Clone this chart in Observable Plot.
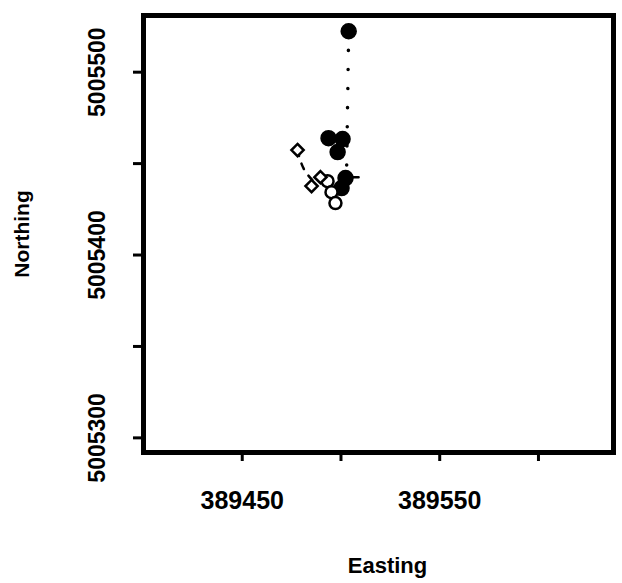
<!DOCTYPE html>
<html>
<head>
<meta charset="utf-8">
<script src="https://cdn.jsdelivr.net/npm/d3@7"></script>
<script src="https://cdn.jsdelivr.net/npm/@observablehq/plot@0.6"></script>
<style>
  html, body { margin: 0; padding: 0; background: #fff; }
  svg { display: block; }
</style>
</head>
<body>
<div id="chart"></div>
<script>
// Filled circles
const filledEasting  = [389503.9, 389493.7, 389500.8, 389498.3, 389502.3, 389500.3];
const filledNorthing = [5005522.4, 5005463.9, 5005463.4, 5005456.3, 5005442.1, 5005436.6];
// Open circles
const openEasting  = [389493.2, 389495.2, 389497.2];
const openNorthing = [5005440.4, 5005434.4, 5005428.4];
// Open diamonds
const diamondEasting  = [389478.0, 389485.1, 389489.6];
const diamondNorthing = [5005457.4, 5005437.7, 5005442.6];
// Dotted track (filled series)
const dottedEasting  = [389503.9, 389502.8];
const dottedNorthing = [5005522.4, 5005442.6];
// Dashed track (diamond series)
const dashedEasting  = [389478.0, 389481.0, 389486.0];
const dashedNorthing = [5005457.4, 5005447.5, 5005440.4];
// Short dashed segment
const segEasting  = [389499.8, 389509.0];
const segNorthing = [5005442.6, 5005442.6];

const xTicks = [389450, 389500, 389550, 389600];
const xTickLabels = ["389450", "", "389550", ""];
const yTicks = [5005300, 5005350, 5005400, 5005450, 5005500];
const yTickLabels = ["5005300", "", "5005400", "", "5005500"];

const toPts = (xs, ys) => xs.map((x, i) => ({x, y: ys[i]}));
const filled = toPts(filledEasting, filledNorthing);
const open = toPts(openEasting, openNorthing);
const diamonds = toPts(diamondEasting, diamondNorthing);
const dotted = toPts(dottedEasting, dottedNorthing);
const dashed = toPts(dashedEasting, dashedNorthing);
const seg = toPts(segEasting, segNorthing);

const font = "'Liberation Sans', Arial, Helvetica, sans-serif";

const chart = Plot.plot({
  width: 622,
  height: 583,
  marginLeft: 143,
  marginRight: 9,
  marginTop: 15,
  marginBottom: 131,
  style: {fontFamily: font, background: "#fff", color: "#000"},
  x: {domain: [389400, 389638]},
  y: {domain: [5005292, 5005531]},
  marks: [
    Plot.axisX({
      ticks: xTicks,
      tickFormat: (d) => xTickLabels[xTicks.indexOf(d)],
      tickSize: 9,
      tickPadding: 30,
      strokeWidth: 3,
      fontSize: 25,
      fontWeight: "bold",
      label: null
    }),
    Plot.axisY({
      ticks: yTicks,
      tickFormat: (d) => yTickLabels[yTicks.indexOf(d)],
      tickSize: 10,
      tickPadding: 29,
      tickRotate: -90,
      strokeWidth: 3,
      fontSize: 23,
      fontWeight: "bold",
      label: null
    }),
    Plot.frame({stroke: "#000", strokeWidth: 5}),
    Plot.line(dotted, {x: "x", y: "y", stroke: "#000", strokeWidth: 3.5, strokeDasharray: "0.1,19", strokeLinecap: "round"}),
    Plot.line(dashed, {x: "x", y: "y", stroke: "#000", strokeWidth: 2.5, strokeDasharray: "6,8", curve: "natural"}),
    Plot.line(seg, {x: "x", y: "y", stroke: "#000", strokeWidth: 2.5, strokeDasharray: "7,4"}),
    Plot.dot(filled, {x: "x", y: "y", r: 7.5, fill: "#000", stroke: "#000", symbol: "circle"}),
    Plot.dot(open, {x: "x", y: "y", r: 6, fill: "#fff", stroke: "#000", strokeWidth: 2.5, symbol: "circle"}),
    Plot.dot(diamonds, {x: "x", y: "y", r: 5.5, fill: "#fff", stroke: "#000", strokeWidth: 2.5, symbol: "diamond2"}),
    Plot.text(["Easting"], {frameAnchor: "bottom", dy: 113, dx: 9, fontSize: 22, fontWeight: "bold", fill: "#000", lineAnchor: "middle", textAnchor: "middle"}),
    Plot.text(["Northing"], {frameAnchor: "left", dx: -121, rotate: -90, fontSize: 21, fontWeight: "bold", fill: "#000", lineAnchor: "middle", textAnchor: "middle"})
  ]
});
document.getElementById("chart").appendChild(chart);
</script>
</body>
</html>
